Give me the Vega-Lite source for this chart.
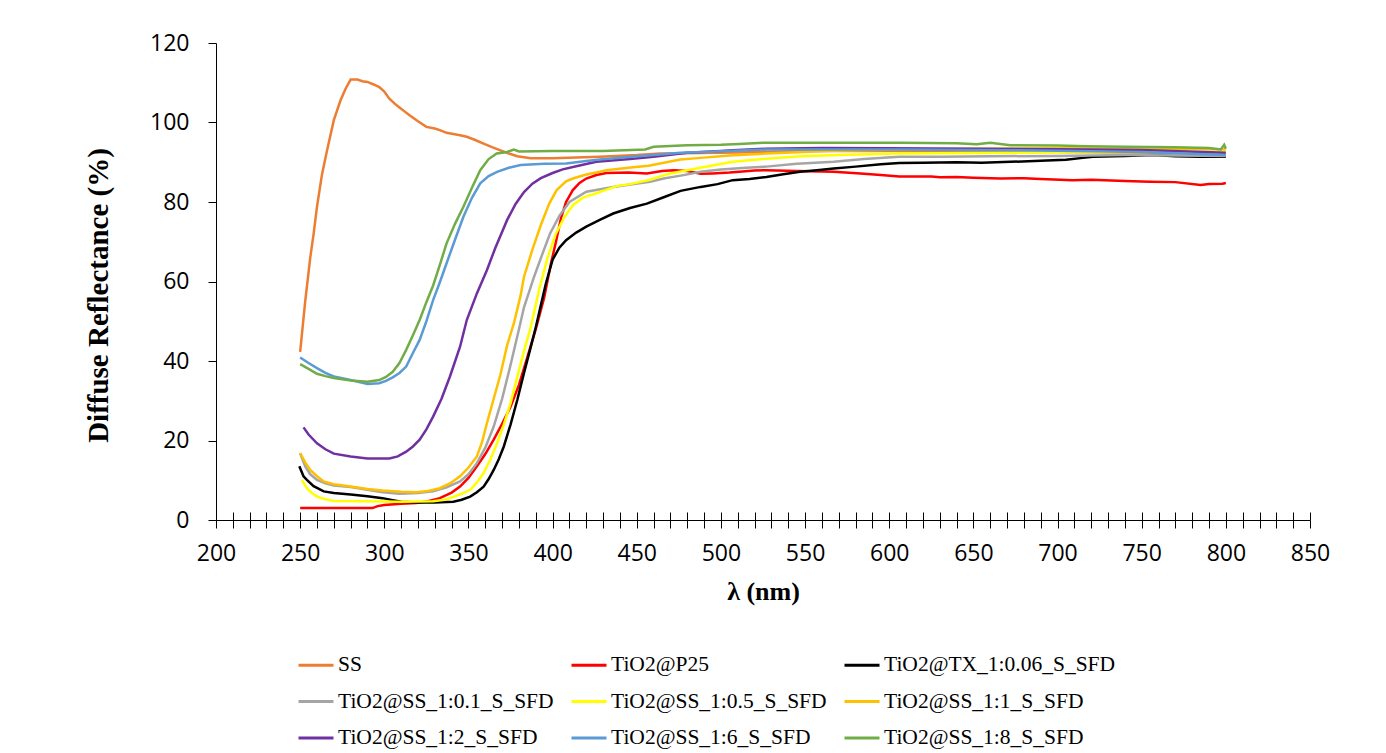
{
  "$schema": "https://vega.github.io/schema/vega-lite/v6.json",
  "width": 1094,
  "height": 477,
  "autosize": "none",
  "padding": {"left": 216, "top": 43, "right": 76, "bottom": 233},
  "background": "white",
  "config": {"view": {"stroke": null}},
  "data": {"values": [
    {"s": "SS", "x": [250,253,256,258,260,263,266,270,274,277,280,284,287,290,294,297,300,303,306,309,312,315,320,325,330,333,337,341,345,349,354,359,364,369,374,379,387,400,428,450,464,500,550,600,650,700,750,800],
     "y": [42.3,55,66,72,78.8,87,93,100.6,105.6,108.5,110.8,110.8,110.4,110.2,109.5,108.9,107.8,106,104.8,103.8,102.8,101.8,100.3,98.9,98.5,98.1,97.4,97.1,96.8,96.4,95.6,94.7,93.8,93,92.2,91.5,91,91,91.4,91.8,92.2,92.4,92.8,92.8,92.6,92.6,92.4,92.2]},
    {"s": "TiO2@P25", "x": [250,260,270,280,293,296,300,310,319,326,333,340,345,350,355,360,365,370,375,380,385,390,395,399,402,405,408,412,416,420,426,432,445,456,465,472,480,488,495,505,511,520,527,545,567,583,595,606,625,630,640,650,666,680,690,709,720,740,755,770,785,790,798,800],
     "y": [3,3,3,3,3,3.5,3.8,4.1,4.3,4.7,5.5,6.9,8.4,10.6,13.5,16.6,20.2,24.2,28.5,34,41,48,56,64.5,70,76,80,83,84.8,85.9,86.8,87.3,87.4,87.2,87.8,88,87.8,87.1,87.2,87.4,87.6,87.9,88,87.8,87.6,87.2,86.8,86.4,86.4,86.2,86.3,86.1,85.9,86,85.8,85.5,85.6,85.3,85.1,85,84.3,84.5,84.6,84.8]},
    {"s": "TiO2@TX_1:0.06_S_SFD", "x": [249.5,252,254,258,264,270,280,290,299,305,310,320,330,341,346,351,355,359,362,365,368,371,375,379,383,387,390,393,396,400,404,408,414,420,428,436,446,456,466,476,488,498,507,517,527,537,547,557,567,580,595,606,620,640,655,672,690,705,715,721,740,757,770,785,800],
     "y": [13.5,11,10.1,8.5,7.2,6.8,6.4,6,5.5,5,4.6,4.4,4.4,4.6,5.1,5.9,7,8.4,10.3,12.6,15.3,18.5,24,30.2,37,43.5,48.5,54,59.5,65.5,68.5,70.4,72.3,73.8,75.5,77.1,78.5,79.6,81.2,82.8,83.8,84.5,85.5,85.8,86.3,87,87.6,88,88.4,88.9,89.5,89.8,89.9,90,89.9,90.1,90.4,90.6,91.1,91.4,91.6,91.8,91.5,91.4,91.4]},
    {"s": "TiO2@SS_1:0.1_S_SFD", "x": [250,253,256,260,265,270,280,290,299,309,320,329,337,345,350,355,360,365,370,375,380,383,389,394,398.5,404,410,420,436,446,458,466,477,488,500,515,527,545,567,585,606,630,660,700,740,770,800],
     "y": [16.8,13.5,11.5,10.1,9.2,8.7,8.3,7.6,7,6.6,6.8,7.2,8.2,9.7,11.5,14.3,18.2,23.5,30.5,39,48,53.5,61.2,67,72.1,76.5,80,82.6,83.8,84.4,85.1,85.9,86.7,87.6,88.2,88.6,88.9,89.6,90.1,90.8,91.4,91.4,91.5,91.6,91.8,91.7,91.6]},
    {"s": "TiO2@SS_1:0.5_S_SFD", "x": [251,254,257,260,265,270,290,310,329,336,341,346,351,355,359,363,367,371,375,379,383,387,392,397,402,407,412,418,426,438,446,458,468,480,495,507,525,547,575,606,650,700,750,800],
     "y": [10.1,8,6.8,5.9,5.2,4.8,4.7,4.6,4.7,5.1,5.8,6.6,7.6,9.4,11.8,15.2,19.3,24,29.4,36,42.5,48.5,58,66,72.1,76.2,79.2,81.1,82.2,84,84.5,85.6,87,88,89.2,90.1,90.8,91.5,91.9,92.2,92.3,92.5,92.6,92.5]},
    {"s": "TiO2@SS_1:1_S_SFD", "x": [250,253,256,260,264,270,280,290,299,310,319,326,333,339,345,350,355,358,361,365,369,373,377,381,383,388,393,398,402.4,408,412,420,428,432,445,457,476,488,505,527,567,606,650,700,750,800],
     "y": [16.8,14.5,12.6,11,9.7,9,8.4,7.8,7.4,7.1,7,7.3,8,9.2,11,13.2,16,19.5,24.4,30.5,36.6,44,49.5,56.5,61.2,68,74.2,79.6,83,85.2,85.9,86.9,87.6,88,88.6,89.1,90.7,91.1,91.7,92.2,92.9,93.2,93.4,93.5,93.4,93.2]},
    {"s": "TiO2@SS_1:2_S_SFD", "x": [252,255,260,265,270,280,290,303,308,313,317,321,325,329,334,339,345,349,355,361,366,373,378,383,388,393,400,406,416,426,446,460,480,500,507,527,560,600,650,700,750,800],
     "y": [23.3,21.5,19.3,17.8,16.7,16,15.5,15.5,16,17.2,18.5,20.2,22.8,26,30.5,36.1,43.6,50.3,57,62.9,68.5,75.5,79.5,82.5,84.6,86,87.3,88.2,89.2,90.1,90.8,91.4,92.4,92.8,93,93.4,93.6,93.5,93.4,93.3,93.1,92.4]},
    {"s": "TiO2@SS_1:6_S_SFD", "x": [250,255,260,265,270,280,290,297,301,305,309,313,317,321,325,329,333,337,342,347,352,357,362,367,374,381,395,408,420,428,445,460,476,490,507,527,560,606,650,700,750,800],
     "y": [40.9,39.5,38.2,37,36.1,35.2,34.2,34.4,35,35.9,37,38.6,42,45.3,50,55.3,59.8,64.6,70.5,76.3,81,84.7,86.5,87.6,88.6,89.3,89.6,89.7,90.3,90.7,91.3,91.8,92.4,92.6,92.9,93.2,93.2,93.2,93.1,92.9,92.6,91.8]},
    {"s": "TiO2@SS_1:8_S_SFD", "x": [250,255,260,265,270,280,290,297,301,305,309,313,317,321,325,329,333,337,342,347,352,357,362,366.8,373,377,380,400,430,455,460,480,500,511,525,560,606,640,652,660,672,700,717,740,770,790,797,799,800],
     "y": [39.2,38,36.8,36.2,35.7,35.1,34.8,35.2,36,37.3,39.5,42.8,46.5,50.3,54.8,59,64.2,69.6,74.5,78.8,83.5,88,90.8,92.2,92.6,93.2,92.7,92.8,92.8,93.2,93.9,94.3,94.4,94.6,94.9,94.9,94.9,94.8,94.5,94.9,94.3,94.2,94,93.9,93.8,93.6,93.2,94.4,93.4]}
  ]},
  "transform": [{"flatten": ["x", "y"]}],
  "layer": [
    {
      "mark": {"type": "line", "strokeWidth": 2.5},
      "encoding": {
        "x": {
          "field": "x", "type": "quantitative",
          "scale": {"domain": [200, 850], "nice": false, "zero": false},
          "axis": {
            "values": [200,210,220,230,240,250,260,270,280,290,300,310,320,330,340,350,360,370,380,390,400,410,420,430,440,450,460,470,480,490,500,510,520,530,540,550,560,570,580,590,600,610,620,630,640,650,660,670,680,690,700,710,720,730,740,750,760,770,780,790,800,810,820,830,840,850],
            "labelExpr": "datum.value % 50 === 0 ? datum.label : ''",
            "labelOverlap": false, "labelFlush": false,
            "tickSize": 8, "tickColor": "#000", "domainColor": "#000",
            "labelFont": "Open Sans", "labelFontSize": 23, "labelColor": "#000", "labelPadding": 14,
            "grid": false,
            "title": "λ (nm)", "titleFont": "Liberation Serif", "titleFontSize": 26, "titleFontWeight": "bold", "titleColor": "#000",
            "titleX": 547, "titleY": 71, "titleBaseline": "middle", "titleAlign": "center"
          }
        },
        "y": {
          "field": "y", "type": "quantitative",
          "scale": {"domain": [0, 120], "nice": false},
          "axis": {
            "values": [0, 20, 40, 60, 80, 100, 120],
            "tickSize": 8, "tickColor": "#000", "domainColor": "#000",
            "labelFont": "Open Sans", "labelFontSize": 23, "labelColor": "#000", "labelPadding": 19,
            "grid": false,
            "title": "Diffuse Reflectance (%)", "titleFont": "Liberation Serif", "titleFontSize": 29, "titleFontWeight": "bold", "titleColor": "#000",
            "titleX": -118, "titleY": 252, "titleBaseline": "middle", "titleAlign": "center", "titleAngle": 270
          }
        },
        "color": {
          "field": "s", "type": "nominal",
          "scale": {
            "domain": ["SS", "TiO2@P25", "TiO2@TX_1:0.06_S_SFD", "TiO2@SS_1:0.1_S_SFD", "TiO2@SS_1:0.5_S_SFD", "TiO2@SS_1:1_S_SFD", "TiO2@SS_1:2_S_SFD", "TiO2@SS_1:6_S_SFD", "TiO2@SS_1:8_S_SFD"],
            "range": ["#ED7D31", "#FF0000", "#000000", "#A5A5A5", "#FFFF00", "#FFC000", "#7030A0", "#5B9BD5", "#70AD47"]
          },
          "legend": {
            "orient": "none", "legendX": 81, "legendY": 603,
            "direction": "horizontal", "columns": 3, "title": null,
            "symbolType": "stroke", "symbolSize": 1225, "symbolStrokeWidth": 3,
            "labelFont": "Liberation Serif", "labelFontSize": 21.5, "labelColor": "#000",
            "labelOffset": 3, "columnPadding": 11, "rowPadding": 6.5, "labelLimit": 400
          }
        }
      }
    },
    {
      "mark": {"type": "line", "opacity": 0},
      "encoding": {
        "x": {
          "field": "x", "type": "quantitative",
          "axis": {
            "orient": "bottom", "offset": -8,
            "values": [200,210,220,230,240,250,260,270,280,290,300,310,320,330,340,350,360,370,380,390,400,410,420,430,440,450,460,470,480,490,500,510,520,530,540,550,560,570,580,590,600,610,620,630,640,650,660,670,680,690,700,710,720,730,740,750,760,770,780,790,800,810,820,830,840,850],
            "labels": false, "domain": false, "grid": false,
            "tickSize": 8, "tickColor": "#000", "title": null
          }
        },
        "y": {"field": "y", "type": "quantitative"},
        "detail": {"field": "s"}
      }
    }
  ],
  "resolve": {"axis": {"x": "independent"}}
}
